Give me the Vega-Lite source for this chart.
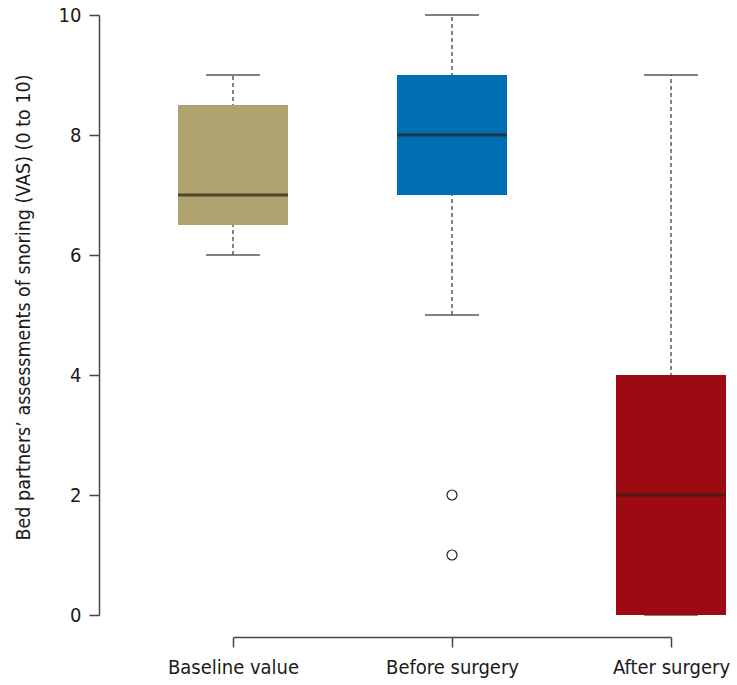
{
  "$schema": "https://vega.github.io/schema/vega-lite/v6.json",
  "width": 630,
  "height": 600,
  "autosize": {"type": "none"},
  "padding": {"left": 99, "top": 15, "right": 8, "bottom": 70},
  "background": "white",
  "config": {
    "view": {"stroke": null},
    "font": "'DejaVu Sans Condensed', 'Liberation Sans Narrow', Roboto, sans-serif",
    "axis": {"grid": false, "domainColor": "#444444", "domainWidth": 1.5, "tickColor": "#444444", "tickWidth": 1.5, "tickSize": 10, "labelColor": "#1a1a1a", "titleColor": "#1a1a1a", "labelFontSize": 20, "titleFontSize": 19.5, "titleFontWeight": "normal"}
  },
  "datasets": {
    "stats": [
      {"group": "Baseline value", "min": 6, "q1": 6.5, "median": 7, "q3": 8.5, "max": 9},
      {"group": "Before surgery", "min": 5, "q1": 7, "median": 8, "q3": 9, "max": 10},
      {"group": "After surgery", "min": 0, "q1": 0, "median": 2, "q3": 4, "max": 9}
    ],
    "outliers": [
      {"group": "Before surgery", "value": 2},
      {"group": "Before surgery", "value": 1}
    ]
  },
  "encoding": {
    "x": {
      "field": "group",
      "type": "nominal",
      "sort": ["Baseline value", "Before surgery", "After surgery"],
      "scale": {"type": "point", "range": [134, 572], "padding": 0},
      "axis": {"title": null, "labelAngle": 0, "offset": 22, "labelPadding": 10}
    }
  },
  "layer": [
    {
      "data": {"name": "stats"},
      "mark": {"type": "rule", "strokeDash": [4, 3], "strokeWidth": 1.2, "color": "#333333"},
      "encoding": {
        "y": {"field": "min", "type": "quantitative", "scale": {"domain": [0, 10], "nice": false, "zero": false},
              "axis": {"values": [0, 2, 4, 6, 8, 10], "format": "d", "labelPadding": 8, "titlePadding": 25, "titleY": 292,
                       "title": "Bed partners’ assessments of snoring (VAS) (0 to 10)"}},
        "y2": {"field": "max"}
      }
    },
    {
      "data": {"name": "stats"},
      "mark": {"type": "tick", "size": 54, "thickness": 2, "color": "#4d4d4d"},
      "encoding": {"y": {"field": "min", "type": "quantitative"}}
    },
    {
      "data": {"name": "stats"},
      "mark": {"type": "tick", "size": 54, "thickness": 2, "color": "#4d4d4d"},
      "encoding": {"y": {"field": "max", "type": "quantitative"}}
    },
    {
      "data": {"name": "stats"},
      "mark": {"type": "bar", "width": 110},
      "encoding": {
        "y": {"field": "q1", "type": "quantitative"},
        "y2": {"field": "q3"},
        "color": {
          "field": "group", "type": "nominal", "legend": null,
          "scale": {"domain": ["Baseline value", "Before surgery", "After surgery"], "range": ["#AEA26F", "#006EB2", "#9E0A12"]}
        }
      }
    },
    {
      "data": {"name": "stats"},
      "mark": {"type": "tick", "size": 110, "thickness": 3, "color": "#2A1F1C"},
      "encoding": {"y": {"field": "median", "type": "quantitative"}}
    },
    {
      "data": {"name": "outliers"},
      "mark": {"type": "point", "shape": "circle", "filled": false, "size": 100, "stroke": "#222222", "strokeWidth": 1.2, "opacity": 1},
      "encoding": {"y": {"field": "value", "type": "quantitative"}}
    }
  ]
}
